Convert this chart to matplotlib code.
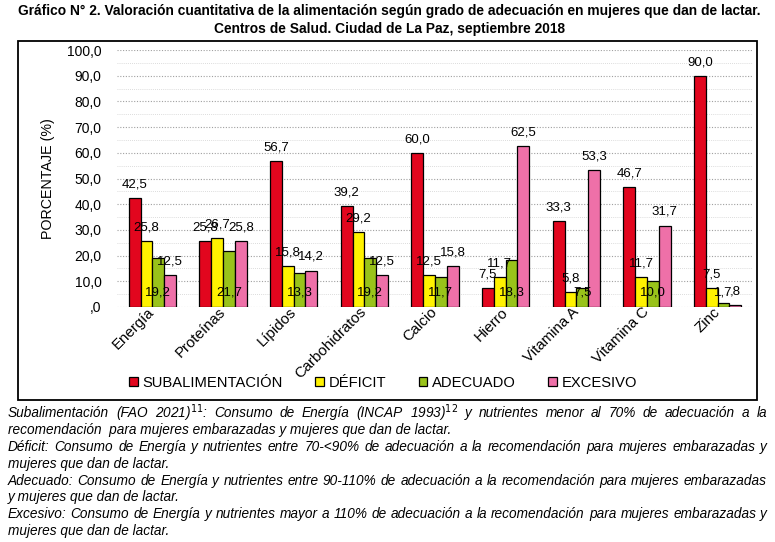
import matplotlib
matplotlib.use('Agg')
import matplotlib.pyplot as plt
import numpy as np
from matplotlib.patches import Rectangle

# Data
nutrientes = ['Energía', 'Proteínas', 'Lípidos', 'Carbohidratos', 'Calcio',
              'Hierro', 'Vitamina A', 'Vitamina C', 'Zinc']
subalimentacion = [42.5, 25.8, 56.7, 39.2, 60.0, 7.5, 33.3, 46.7, 90.0]
deficit = [25.8, 26.7, 15.8, 29.2, 12.5, 11.7, 5.8, 11.7, 7.5]
adecuado = [19.2, 21.7, 13.3, 19.2, 11.7, 18.3, 7.5, 10.0, 1.7]
excesivo = [12.5, 25.8, 14.2, 12.5, 15.8, 62.5, 53.3, 31.7, 0.8]
series_names = ['SUBALIMENTACIÓN', 'DÉFICIT', 'ADECUADO', 'EXCESIVO']
colors = ['#E2061E', '#FFF200', '#99C31A', '#EE70A8']

title_lines = ['Gráfico N° 2. Valoración cuantitativa de la alimentación según grado de adecuación en mujeres que dan de lactar.',
               'Centros de Salud. Ciudad de La Paz, septiembre 2018']

notes = [
    ('Subalimentación (FAO 2021)$^{11}$: Consumo de Energía (INCAP 1993)$^{12}$ y nutrientes menor al 70% de adecuación a la', True),
    ('recomendación  para mujeres embarazadas y mujeres que dan de lactar.', False),
    ('Déficit: Consumo de Energía y nutrientes entre 70-<90% de adecuación a la recomendación para mujeres embarazadas y', True),
    ('mujeres que dan de lactar.', False),
    ('Adecuado: Consumo de Energía y nutrientes entre 90-110% de adecuación a la recomendación para mujeres embarazadas', True),
    ('y mujeres que dan de lactar.', False),
    ('Excesivo: Consumo de Energía y nutrientes mayor a 110% de adecuación a la recomendación para mujeres embarazadas y', True),
    ('mujeres que dan de lactar.', False),
]

plt.rcParams['font.family'] = ['Liberation Sans', 'DejaVu Sans']

W, H = 775, 542
fig = plt.figure(figsize=(W / 100, H / 100), dpi=100)
ax = fig.add_axes([117 / W, 1 - 307 / H, (753 - 117) / W, (307 - 50) / H])

x = np.arange(len(nutrientes))
bw = 0.167
all_series = [subalimentacion, deficit, adecuado, excesivo]
for i, (vals, name, c) in enumerate(zip(all_series, series_names, colors)):
    pos = x + (i - 1.5) * bw
    ax.bar(pos, vals, bw, color=c, edgecolor='black', linewidth=0.9, label=name, zorder=3)
    for xp, v in zip(pos, vals):
        lab = f'{v:.1f}'.replace('.', ',')
        if lab.startswith('0'):
            lab = lab[1:]
        # green labels sit at the base of the bar, the rest above
        ytxt = 5.5 if i == 2 else v + 5.3
        ax.text(xp, ytxt, lab, ha='center', va='center', fontsize=9.5, zorder=5)

ax.set_xlim(-0.5, len(nutrientes) - 0.5)
ax.set_ylim(0, 100)
ax.set_yticks(np.arange(0, 101, 10))
ax.set_yticklabels([',0'] + [f'{v},0' for v in range(10, 101, 10)], fontsize=10)
ax.set_yticks(np.arange(0, 101, 5), minor=True)
ax.grid(axis='y', which='major', color='#A0A0A0', linestyle=(0, (1, 1.5)), linewidth=0.8, zorder=0)
ax.grid(axis='y', which='minor', color='#D0D0D0', linestyle=(0, (1, 1.5)), linewidth=0.6, zorder=0)
ax.tick_params(axis='y', which='both', length=0, pad=11)
ax.tick_params(axis='x', length=0, pad=2)
ax.set_xticks(x)
ax.set_xticklabels(nutrientes, rotation=45, ha='right', va='center', rotation_mode='anchor', fontsize=10.8)
for sp in ax.spines.values():
    sp.set_visible(False)
ax.set_ylabel('PORCENTAJE (%)', fontsize=10.3, labelpad=9)

fig.legend(loc='center', bbox_to_anchor=(383 / W, 1 - 383 / H), ncol=4, frameon=False,
           fontsize=10.6, handlelength=0.6, handleheight=0.6, handletextpad=0.3,
           columnspacing=2.2, borderaxespad=0)

# frame around chart
fig.patches.append(Rectangle((18 / W, 1 - 400 / H), (757 - 18) / W, (400 - 41) / H,
                             transform=fig.transFigure, fill=False, edgecolor='black', linewidth=1.3))

# title
fig.text(389 / W, 1 - 11 / H, title_lines[0], ha='center', va='center', fontsize=9.9, fontweight='bold')
fig.text(389 / W, 1 - 29 / H, title_lines[1], ha='center', va='center', fontsize=9.9, fontweight='bold')

# footnotes, first line of each paragraph justified
renderer = fig.canvas.get_renderer()
x0, x1 = 8, 767
y_first, dy = 413, 16.9
fs = 9.8
for k, (line, justify) in enumerate(notes):
    yp = 1 - (y_first + k * dy) / H
    if not justify:
        fig.text(x0 / W, yp, line, ha='left', va='center', fontsize=fs, style='italic')
        continue
    words = line.split(' ')
    objs = [fig.text(0, yp, w, ha='left', va='center', fontsize=fs, style='italic') for w in words]
    widths = [o.get_window_extent(renderer).width for o in objs]
    gap = (x1 - x0 - sum(widths)) / (len(words) - 1)
    cur = x0
    for o, w in zip(objs, widths):
        o.set_x(cur / W)
        cur += w + gap

fig.savefig('out.png', dpi=100)
